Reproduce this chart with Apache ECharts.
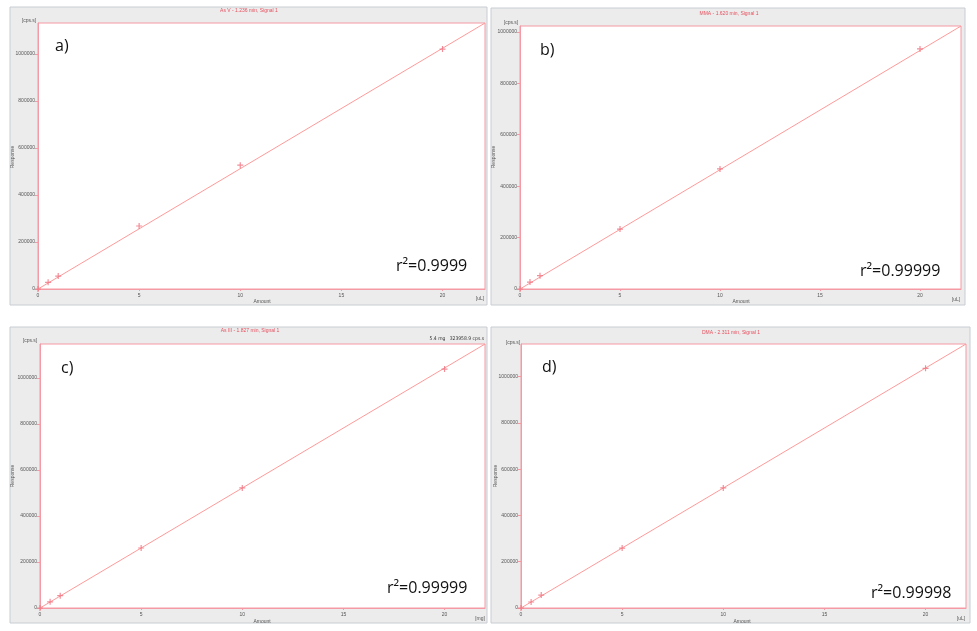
<!DOCTYPE html>
<html>
<head>
<meta charset="utf-8">
<script src="https://cdn.jsdelivr.net/npm/echarts@6/dist/echarts.min.js"></script>
<style>html,body{margin:0;padding:0;background:#fff;}#c{width:977px;height:631px;}</style>
</head>
<body>
<div id="c"></div>
<script>
// ---- data ----
const amounts = [0, 0.5, 1, 5, 10, 20];
const responseA = [0, 28500, 55000, 268000, 527000, 1021000];
const responseB = [0, 27000, 52000, 233000, 467000, 934000];
const responseC = [0, 27000, 53500, 261000, 522000, 1039000];
const responseD = [0, 26000, 56000, 259000, 519000, 1036000];
// calibration line end points (line runs to plot corner)
const fitA = [[0, 0], [22.1, 1132000]];
const fitB = [[0, 0], [22.05, 1023000]];
const fitC = [[0, 0], [22.0, 1148000]];
const fitD = [[0, 0], [22.0, 1141000]];
const titles = ['As V - 1.236 min, Signal 1', 'MMA - 1.620 min, Signal 1', 'As III - 1.827 min, Signal 1', 'DMA - 2.311 min, Signal 1'];
const panelLabels = ['a)', 'b)', 'c)', 'd)'];
const r2Labels = ['r\u00B2=0.9999', 'r\u00B2=0.99999', 'r\u00B2=0.99999', 'r\u00B2=0.99998'];
const xUnits = ['[uL]', '[uL]', '[mg]', '[uL]'];
const yUnit = '[cps.s]';
const xTicks = [0, 5, 10, 15, 20];
const yTicks = [0, 200000, 400000, 600000, 800000, 1000000];

// ---- layout ----
const grids = [
  {left: 38, top: 23, width: 447, height: 266},
  {left: 520, top: 26, width: 441, height: 263},
  {left: 40, top: 344, width: 445, height: 264},
  {left: 521, top: 344, width: 445, height: 264}
];
const panels = [
  {x: 10, y: 7, w: 477, h: 298},
  {x: 491, y: 8, w: 474, h: 297},
  {x: 10, y: 327, w: 477, h: 296},
  {x: 491, y: 327, w: 479, h: 296}
];
const responses = [responseA, responseB, responseC, responseD];
const fits = [fitA, fitB, fitC, fitD];

const PINK = '#f59aa4';
const LINE = '#ff9a9a';
const MARK = '#f0707e';
const TXT = '#555';
const cross = 'path://M4,0H6V4H10V6H6V10H4V6H0V4H4Z';

const xAxis = [], yAxis = [], series = [], graphic = [];
grids.forEach((g, i) => {
  const fit = fits[i];
  xAxis.push({
    type: 'value', gridIndex: i, min: 0, max: fit[1][0], interval: 5,
    splitLine: {show: false},
    axisLine: {show: true, lineStyle: {color: PINK}},
    axisTick: {show: true, length: 2, lineStyle: {color: PINK}},
    axisLabel: {show: true, fontSize: 5, color: TXT, margin: 4, showMaxLabel: false,
      fontFamily: 'Liberation Sans', formatter: v => String(v)}
  });
  yAxis.push({
    type: 'value', gridIndex: i, min: 0, max: fit[1][1], interval: 200000,
    splitLine: {show: false},
    axisLine: {show: true, lineStyle: {color: PINK}},
    axisTick: {show: true, length: 3, lineStyle: {color: PINK}},
    axisLabel: {show: true, fontSize: 5, color: TXT, margin: 3, showMaxLabel: false,
      fontFamily: 'Liberation Sans', formatter: v => String(v)}
  });
  series.push({
    type: 'line', xAxisIndex: i, yAxisIndex: i, data: fit, showSymbol: false,
    lineStyle: {color: LINE, width: 1}, silent: true, z: 2
  });
  series.push({
    type: 'scatter', xAxisIndex: i, yAxisIndex: i,
    data: amounts.map((a, k) => [a, responses[i][k]]),
    symbol: cross, symbolSize: 6, itemStyle: {color: MARK}, z: 3
  });
  const p = panels[i];
  graphic.push({type: 'rect', z: -10, shape: {x: p.x, y: p.y, width: p.w, height: p.h},
    style: {fill: '#ececec', stroke: '#c8cdd3', lineWidth: 1}});
});

const texts = [
  // titles
  {x: 249, y: 11, t: titles[0], c: '#e8505f', s: 5, a: 'center'},
  {x: 729, y: 14, t: titles[1], c: '#e8505f', s: 5, a: 'center'},
  {x: 250, y: 331, t: titles[2], c: '#e8505f', s: 5, a: 'center'},
  {x: 731, y: 333, t: titles[3], c: '#e8505f', s: 5, a: 'center'},
  // y units
  {x: 29, y: 21, t: yUnit, c: TXT, s: 5, a: 'center'},
  {x: 511, y: 23, t: yUnit, c: TXT, s: 5, a: 'center'},
  {x: 30, y: 341, t: yUnit, c: TXT, s: 5, a: 'center'},
  {x: 513, y: 343, t: yUnit, c: TXT, s: 5, a: 'center'},
  // x names
  {x: 262, y: 302, t: 'Amount', c: TXT, s: 5, a: 'center'},
  {x: 741, y: 302, t: 'Amount', c: TXT, s: 5, a: 'center'},
  {x: 262, y: 622, t: 'Amount', c: TXT, s: 5, a: 'center'},
  {x: 742, y: 622, t: 'Amount', c: TXT, s: 5, a: 'center'},
  // x units
  {x: 480, y: 299, t: xUnits[0], c: TXT, s: 5, a: 'center'},
  {x: 956, y: 300, t: xUnits[1], c: TXT, s: 5, a: 'center'},
  {x: 480, y: 619, t: xUnits[2], c: TXT, s: 5, a: 'center'},
  {x: 961, y: 619, t: xUnits[3], c: TXT, s: 5, a: 'center'},
  // extra note in c
  {x: 484, y: 339, t: '5.4 mg   323958.9 cps.s', c: '#333', s: 5, a: 'right', f: 'DejaVu Sans Condensed'},
  // panel labels
  {x: 55, y: 46, t: panelLabels[0], c: '#111', s: 16, a: 'left', f: 'Open Sans'},
  {x: 540, y: 50, t: panelLabels[1], c: '#111', s: 16, a: 'left', f: 'Open Sans'},
  {x: 61, y: 368, t: panelLabels[2], c: '#111', s: 16, a: 'left', f: 'Open Sans'},
  {x: 542, y: 367, t: panelLabels[3], c: '#111', s: 16, a: 'left', f: 'Open Sans'},
  // r2
  {x: 396, y: 266, t: r2Labels[0], c: '#111', s: 16, a: 'left', f: 'Open Sans'},
  {x: 860, y: 271, t: r2Labels[1], c: '#111', s: 16, a: 'left', f: 'Open Sans'},
  {x: 387, y: 588, t: r2Labels[2], c: '#111', s: 16, a: 'left', f: 'Open Sans'},
  {x: 871, y: 593, t: r2Labels[3], c: '#111', s: 16, a: 'left', f: 'Open Sans'}
];
texts.forEach(o => graphic.push({
  type: 'text', z: 100, x: o.x, y: o.y,
  style: {text: o.t, fill: o.c, fontSize: o.s, fontFamily: o.f || 'Liberation Sans',
    textAlign: o.a, textVerticalAlign: 'middle'}
}));
// rotated y names
[[13, 157], [494, 157], [13, 476], [496, 476]].forEach(([x, y]) => graphic.push({
  type: 'text', z: 100, x: x, y: y, rotation: Math.PI / 2,
  style: {text: 'Response', fill: TXT, fontSize: 5, fontFamily: 'Liberation Sans',
    textAlign: 'center', textVerticalAlign: 'middle'}
}));

const chart = echarts.init(document.getElementById('c'), null, {renderer: 'canvas'});
chart.setOption({
  animation: false,
  backgroundColor: '#fff',
  grid: grids.map(g => Object.assign({show: true, backgroundColor: '#fff', borderColor: PINK, borderWidth: 1, containLabel: false}, g)),
  xAxis: xAxis,
  yAxis: yAxis,
  series: series,
  graphic: graphic
});
</script>
</body>
</html>
